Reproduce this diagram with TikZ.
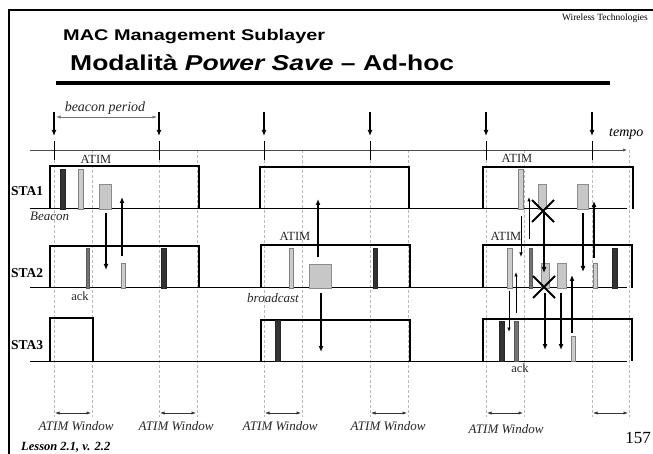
\documentclass[tikz,border=0pt]{standalone}
\usepackage{graphicx}
\usepackage{fontspec}
\setmainfont{Liberation Serif}
\newfontfamily\arialf{Liberation Sans}
\usetikzlibrary{arrows.meta}
\begin{document}
\begin{tikzpicture}[x=1pt,y=-1pt,
  lbl/.style={inner sep=0pt, font=\fontsize{12.5}{14}\selectfont, text=black!85},
  ilbl/.style={inner sep=0pt, font=\itshape\fontsize{13}{15}\selectfont, text=black!85},
  stalbl/.style={inner sep=0pt, anchor=base west, font=\bfseries\fontsize{13.5}{15}\selectfont},
  onbox/.style={line width=1.5pt},
  baseln/.style={line width=1pt},
  gridln/.style={gray!55, line width=0.5pt, dash pattern=on 3pt off 2pt},
  dk/.style={fill=black!80, draw=black!85, line width=.4pt},
  md/.style={fill=black!55, draw=black!65, line width=.4pt},
  lt/.style={fill=black!20, draw=black!50, line width=.4pt},
  gbox/.style={fill=black!22, draw=black!45, line width=.4pt},
  thk/.style={line width=1.6pt, -{Latex[length=6pt,width=5pt]}},
  thn/.style={line width=0.8pt, -{Latex[length=4.5pt,width=3.5pt]}},
  win/.style={line width=0.7pt, black!80, {Latex[length=4.5pt,width=3.2pt]}-{Latex[length=4.5pt,width=3.2pt]}},
  xmark/.style={line width=2pt}
]
\useasboundingbox (0,0) rectangle (653,454);
\fill[white] (0,0) rectangle (653,454);
% frame
\draw[line width=2pt] (9,454) -- (9,10) -- (653,10);
% titles
\node[anchor=base west, inner sep=0pt, font=\arialf\bfseries\fontsize{15.5}{17}\selectfont] (t1) at (63,41) {\resizebox{262pt}{\height}{MAC Management Sublayer}};
\node[anchor=base west, inner sep=0pt, font=\arialf\bfseries\fontsize{21.5}{24}\selectfont] (t2) at (70,70.5) {\resizebox{384pt}{\height}{Modalità \textit{Power Save} – Ad-hoc}};
\draw[line width=4pt] (56,83) -- (610,83);
\node[anchor=base east, inner sep=0pt, font=\fontsize{9.5}{11}\selectfont] (wt) at (648,21) {Wireless Technologies};
% grid lines
\foreach \x in {54,92,159,197,264,302,370,408,486,524,592,629}
  \draw[gridln] (\x,150) -- (\x,417);
% time axis
\draw[black!70, line width=.7pt, -{Latex[length=4pt,width=3pt]}] (30,150) coordinate (ax0) -- (627,150) coordinate (ax1);
\node[anchor=base west, inner sep=0pt, font=\itshape\fontsize{14}{16}\selectfont] (tempo) at (609,137) {tempo};
% beacon arrows and ticks
\foreach \x in {54,159,264,370,486,592}{
  \draw[thk] (\x,112) -- (\x,136);
  \draw[line width=.7pt] (\x,141) -- (\x,160);
}
\draw[win, black!55] (56,117) coordinate (bp0) -- (157,117) coordinate (bp1);
\node[anchor=base, inner sep=0pt, font=\itshape\fontsize{14}{16}\selectfont, text=black!85] (bper) at (105,112) {beacon period};
% station baselines
\draw[baseln] (30,209) coordinate (s1a) -- (627,209) coordinate (s1b);
\draw[baseln] (30,288) coordinate (s2a) -- (627,288) coordinate (s2b);
\draw[baseln] (30,361) coordinate (s3a) -- (627,361) coordinate (s3b);
\node[stalbl] (sta1) at (11,196) {STA1};
\node[stalbl] (sta2) at (11,277) {STA2};
\node[stalbl] (sta3) at (11,349) {STA3};
% power-on boxes
\draw[onbox] (50,209) |- (199,166) -- (199,209);
\draw[onbox] (260,209) |- (409,167) -- (409,209);
\draw[onbox] (483,209) |- (633,167) -- (633,209);
\draw[onbox] (50,288) |- (199,246) -- (199,288);
\draw[onbox] (261,288) |- (410,245) -- (410,288);
\draw[onbox] (483,288) |- (632,245) -- (632,288);
\draw[onbox] (50,361) |- (93,318) -- (93,361);
\draw[onbox] (261,361) |- (410,320) -- (410,361);
\draw[onbox] (483,361) |- (632,319) -- (632,361);
% STA1 frames
\draw[dk] (60,169) rectangle (65,209);
\draw[lt] (78,169) rectangle (83,209);
\draw[gbox] (99,184) rectangle (111,209);
\draw[lt] (518,169) rectangle (523,209);
\draw[gbox] (538,184) rectangle (546,209);
\draw[gbox] (577,184) rectangle (588,209);
% STA2 frames
\draw[md] (86,248) rectangle (89,288);
\draw[lt] (121,263) rectangle (125,288);
\draw[dk] (161,248) rectangle (166,288);
\draw[lt] (289,248) rectangle (293,288);
\draw[gbox] (309,264) rectangle (331,288);
\draw[dk] (373,248) rectangle (377,288);
\draw[lt] (507,248) rectangle (512,288);
\draw[md] (529,248) rectangle (532,288);
\draw[gbox] (541,263) rectangle (549,288);
\draw[gbox] (557,263) rectangle (566,288);
\draw[lt] (593,263) rectangle (597,288);
\draw[dk] (612,248) rectangle (617,288);
% STA3 frames
\draw[dk] (275,320) rectangle (280,361);
\draw[dk] (499,321) rectangle (504,361);
\draw[md] (514,321) rectangle (518,361);
\draw[lt] (571,336) rectangle (575,361);
% labels
\node[lbl, anchor=base] (atim1) at (96,164) {ATIM};
\node[lbl, anchor=base] (atim2) at (295,241) {ATIM};
\node[lbl, anchor=base] (atim3) at (517,163) {ATIM};
\node[lbl, anchor=base] (atim4) at (506,241) {ATIM};
\node[ilbl, anchor=base west] (beacon) at (30,221) {Beacon};
\node[lbl, anchor=base] (ack1) at (80,301) {ack};
\node[lbl, anchor=base] (ack2) at (520,372) {ack};
\node[ilbl, anchor=base] (bcast) at (273,302) {broadcast};
% arrows left
\draw[thk] (106,213) -- (106,270);
\draw[thk] (122,256) -- (122,197);
\draw[thk] (318,257) -- (318,199);
\draw[thk] (321,293) -- (321,352);
% arrows right
\draw[thk] (544,213) -- (544,273);
\draw[thk] (583,213) -- (583,272);
\draw[thk] (594,258) -- (594,201);
\draw[thn] (521,216) -- (521,257);
\draw[thn] (529,239) -- (529,197);
\draw[thn] (516,313) -- (516,272);
\draw[thn] (509,291) -- (509,332);
\draw[thk] (545,293) -- (545,350);
\draw[thk] (561,293) -- (561,350);
\draw[thk] (572,333) -- (572,275);
% collisions
\draw[xmark] (532,200) -- (554,222) (532,222) -- (554,200);
\draw[xmark] (533,276) -- (555,298) (533,298) -- (555,276);
% ATIM windows
\foreach \a/\b in {54/92,159/197,264/302,370/408,486/524,592/629}
  \draw[win] (\a+1,413) -- (\b-1,413);
\node[ilbl, anchor=base] (w1) at (76,430) {ATIM Window};
\node[ilbl, anchor=base] (w2) at (176,430) {ATIM Window};
\node[ilbl, anchor=base] (w3) at (280,430) {ATIM Window};
\node[ilbl, anchor=base] (w4) at (388,430) {ATIM Window};
\node[ilbl, anchor=base] (w5) at (506,433) {ATIM Window};
% footer
\node[anchor=base west, inner sep=0pt, font=\bfseries\itshape\fontsize{12.5}{14}\selectfont] (lesson) at (21,450) {Lesson 2.1, v. 2.2};
\node[anchor=base east, inner sep=0pt, font=\fontsize{17}{19}\selectfont] (pg) at (651,443) {157};
\end{tikzpicture}
\end{document}
